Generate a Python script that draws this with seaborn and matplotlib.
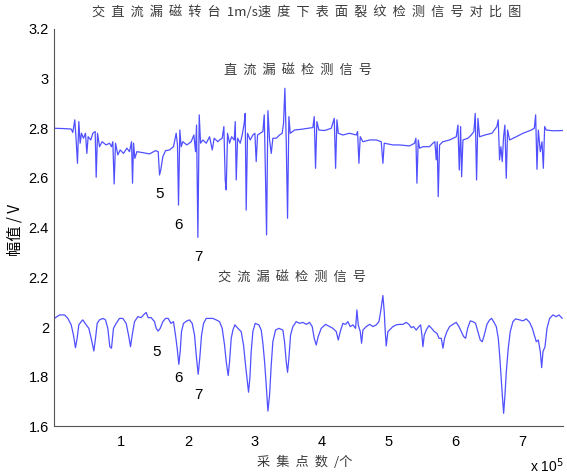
import numpy as np
import matplotlib
matplotlib.use("Agg")
import matplotlib.pyplot as plt
import seaborn as sns

# ========== 数据（横坐标单位: 1e5 个采集点） ==========
dc_x = [0.000, 0.125, 0.250, 0.274, 0.304, 0.324, 0.344, 0.364, 0.384, 0.404,
        0.434, 0.464, 0.484, 0.504, 0.544, 0.574, 0.609, 0.624, 0.644, 0.674,
        0.713, 0.773, 0.823, 0.853, 0.873, 0.893, 0.913, 0.948, 0.983, 1.033,
        1.083, 1.123, 1.153, 1.168, 1.183, 1.203, 1.233, 1.322, 1.422, 1.512,
        1.552, 1.572, 1.592, 1.622, 1.662, 1.722, 1.781, 1.821, 1.841, 1.856,
        1.876, 1.896, 1.921, 1.981, 2.046, 2.086, 2.111, 2.126, 2.146, 2.166,
        2.186, 2.221, 2.271, 2.321, 2.361, 2.390, 2.445,
        2.470, 2.510, 2.535, 2.555, 2.570, 2.590, 2.620, 2.650, 2.690, 2.705,
        2.720, 2.740, 2.780, 2.809, 2.839, 2.854, 2.869, 2.889, 2.929, 2.969,
        2.999, 3.019, 3.039, 3.079, 3.119, 3.139, 3.159, 3.174, 3.194, 3.219,
        3.244, 3.268, 3.318, 3.368, 3.408, 3.428, 3.448, 3.468, 3.488, 3.508,
        3.528, 3.593, 3.693, 3.793, 3.867, 3.887, 3.907, 3.927, 3.957, 4.042,
        4.142, 4.187, 4.207, 4.227, 4.247, 4.316, 4.416, 4.516, 4.536, 4.556,
        4.576, 4.616, 4.716, 4.816, 4.890, 4.915, 4.935, 4.990, 5.065,
        5.165, 5.314, 5.389, 5.409, 5.424, 5.444, 5.464, 5.514, 5.614, 5.664,
        5.693, 5.713, 5.728, 5.743, 5.763, 5.813, 5.913, 6.013, 6.038, 6.058,
        6.078, 6.093, 6.113, 6.188, 6.237, 6.277, 6.297, 6.317, 6.337, 6.362,
        6.442, 6.547, 6.621, 6.641, 6.661, 6.681, 6.701, 6.721, 6.741, 6.761,
        6.781, 6.811, 6.911, 7.011, 7.136, 7.181, 7.201, 7.221, 7.241, 7.271,
        7.296, 7.316, 7.336, 7.360, 7.460, 7.610]
dc_y = [2.800, 2.799, 2.797, 2.783, 2.834, 2.753, 2.659, 2.827, 2.740, 2.780,
        2.760, 2.780, 2.699, 2.766, 2.753, 2.780, 2.787, 2.603, 2.780, 2.726,
        2.746, 2.733, 2.740, 2.726, 2.746, 2.576, 2.740, 2.693, 2.713, 2.699,
        2.720, 2.706, 2.746, 2.579, 2.740, 2.679, 2.706, 2.702, 2.697, 2.710,
        2.706, 2.612, 2.635, 2.686, 2.710, 2.713, 2.726, 2.780, 2.733, 2.491,
        2.793, 2.726, 2.746, 2.733, 2.746, 2.773, 2.706, 2.813, 2.361, 2.854,
        2.740, 2.753, 2.740, 2.766, 2.713, 2.760, 2.746,
        2.753, 2.760, 2.807, 2.592, 2.552, 2.780, 2.740, 2.766, 2.753, 2.827,
        2.592, 2.760, 2.740, 2.773, 2.820, 2.860, 2.471, 2.780, 2.753, 2.773,
        2.780, 2.666, 2.773, 2.780, 2.787, 2.854, 2.592, 2.371, 2.871, 2.753,
        2.699, 2.760, 2.760, 2.773, 2.780, 2.820, 2.961, 2.753, 2.438, 2.847,
        2.780, 2.793, 2.796, 2.800, 2.803, 2.847, 2.639, 2.827, 2.793, 2.791,
        2.800, 2.840, 2.639, 2.834, 2.780, 2.773, 2.780, 2.773, 2.787, 2.659,
        2.766, 2.746, 2.753, 2.753, 2.746, 2.659, 2.740, 2.737, 2.733,
        2.733, 2.729, 2.740, 2.760, 2.579, 2.753, 2.720, 2.726, 2.726, 2.740,
        2.746, 2.673, 2.746, 2.525, 2.733, 2.746, 2.753, 2.766, 2.813, 2.632,
        2.807, 2.605, 2.753, 2.760, 2.773, 2.787, 2.860, 2.592, 2.840, 2.766,
        2.773, 2.780, 2.807, 2.834, 2.673, 2.726, 2.666, 2.766, 2.813, 2.599,
        2.793, 2.753, 2.766, 2.780, 2.793, 2.800, 2.854, 2.635, 2.793, 2.706,
        2.746, 2.639, 2.807, 2.793, 2.790, 2.791]

ac_x = [0.000, 0.075, 0.150, 0.200, 0.250, 0.284, 0.314, 0.339, 0.364, 0.399,
        0.424, 0.474, 0.514, 0.549, 0.589, 0.614, 0.639, 0.674, 0.724, 0.763,
        0.798, 0.828, 0.853, 0.883, 0.923, 0.973, 1.023, 1.073, 1.108, 1.138,
        1.163, 1.198, 1.248, 1.297, 1.332, 1.372, 1.402, 1.447, 1.497, 1.522,
        1.552, 1.582, 1.622, 1.662, 1.702, 1.742, 1.781, 1.811, 1.836, 1.861,
        1.881, 1.901, 1.931, 1.981, 2.021, 2.061, 2.096, 2.126, 2.151, 2.176,
        2.201, 2.231, 2.271, 2.310, 2.370, 2.420, 2.470,
        2.510, 2.545, 2.570, 2.600, 2.620, 2.645, 2.670, 2.700, 2.745, 2.794,
        2.829, 2.859, 2.889, 2.904, 2.924, 2.944, 2.969, 3.004, 3.059, 3.094,
        3.119, 3.144, 3.169, 3.194, 3.219, 3.244, 3.268, 3.308, 3.358, 3.418,
        3.443, 3.468, 3.488, 3.508, 3.533, 3.568, 3.618, 3.668, 3.718, 3.768,
        3.817, 3.857, 3.887, 3.917, 3.947, 3.992, 4.057, 4.117, 4.167, 4.217,
        4.247, 4.277, 4.316, 4.356, 4.391, 4.426, 4.466, 4.506, 4.526, 4.546,
        4.576, 4.596, 4.616, 4.666, 4.716, 4.766, 4.816, 4.856, 4.885, 4.915,
        4.935, 4.950, 4.965, 4.990,
        5.065, 5.115, 5.165, 5.215, 5.264, 5.304, 5.339, 5.374, 5.414, 5.454,
        5.479, 5.499, 5.514, 5.534, 5.564, 5.604, 5.644, 5.684, 5.724, 5.754,
        5.789, 5.814, 5.838, 5.873, 5.913, 5.963, 6.013, 6.053, 6.088, 6.123,
        6.153, 6.183, 6.223, 6.262, 6.302, 6.337, 6.372, 6.402, 6.432, 6.472,
        6.512, 6.542, 6.572, 6.612, 6.642, 6.662, 6.682, 6.702, 6.722, 6.742,
        6.762, 6.791, 6.821, 6.861, 6.901, 6.961, 7.011, 7.061, 7.111, 7.151,
        7.181, 7.211, 7.241, 7.271, 7.291, 7.311, 7.341, 7.371, 7.410, 7.460,
        7.510, 7.550, 7.600]
ac_y = [2.035, 2.049, 2.049, 2.035, 2.009, 1.968, 1.917, 1.955, 2.009, 2.022,
        2.029, 2.009, 1.995, 1.955, 1.904, 1.955, 2.015, 2.029, 2.035, 2.029,
        1.995, 1.921, 1.915, 1.995, 2.015, 2.035, 2.035, 2.015, 1.968, 1.921,
        1.968, 2.022, 2.042, 2.038, 2.049, 2.059, 2.038, 2.038, 2.022, 1.995,
        1.984, 1.995, 2.022, 2.035, 2.035, 2.015, 2.022, 1.968, 1.915, 1.850,
        1.901, 1.982, 2.015, 2.025, 2.029, 2.015, 1.968, 1.874, 1.810, 1.881,
        1.968, 2.015, 2.035, 2.035, 2.035, 2.029, 2.022,
        1.995, 1.928, 1.861, 1.805, 1.861, 1.955, 1.988, 2.009, 1.995, 1.982,
        1.928, 1.848, 1.774, 1.738, 1.794, 1.901, 1.982, 2.015, 2.009, 1.988,
        1.935, 1.861, 1.767, 1.662, 1.727, 1.848, 1.941, 1.988, 1.995, 1.988,
        1.941, 1.861, 1.818, 1.874, 1.968, 2.002, 2.022, 2.015, 2.019, 2.011,
        2.019, 2.002, 1.955, 1.928, 1.962, 1.995, 2.011, 2.002, 1.995, 1.982,
        1.948, 1.982, 2.015, 2.011, 2.022, 2.002, 2.009, 1.995, 2.069, 2.009,
        1.982, 1.935, 1.988, 2.002, 2.011, 2.002, 2.009, 2.022, 2.069, 2.127,
        2.062, 1.982, 1.924, 1.982,
        2.002, 2.009, 2.011, 2.011, 2.019, 2.011, 1.998, 2.002, 1.988, 2.002,
        2.009, 1.968, 1.921, 1.968, 1.988, 2.006, 1.995, 1.982, 1.975, 1.955,
        1.955, 1.915, 1.955, 1.982, 2.002, 2.011, 2.019, 2.002, 1.982, 1.962,
        1.955, 1.995, 2.025, 2.022, 2.015, 1.982, 1.948, 1.941, 1.968, 2.011,
        2.029, 2.035, 2.022, 2.002, 1.955, 1.888, 1.807, 1.727, 1.653, 1.727,
        1.821, 1.915, 1.982, 2.022, 2.033, 2.029, 2.025, 2.033, 2.019, 1.995,
        1.968, 1.941, 1.948, 1.901, 1.837, 1.901, 1.921, 1.995, 2.035, 2.049,
        2.042, 2.049, 2.035]

x_ticks = [1, 2, 3, 4, 5, 6, 7]
y_ticks = [1.6, 1.8, 2.0, 2.2, 2.4, 2.6, 2.8, 3.0, 3.2]
y_tick_labels = ["1.6", "1.8", "2", "2.2", "2.4", "2.6", "2.8", "3", "3.2"]

crack_labels = ["5", "6", "7"]
dc_label_x = [1.572, 1.861, 2.156]
dc_label_y = [2.537, 2.411, 2.283]
ac_label_x = [1.532, 1.852, 2.161]
ac_label_y = [1.901, 1.796, 1.727]

# ========== 绘图 ==========
sns.set_style("white")
plt.rcParams["font.family"] = ["Liberation Sans", "Noto Sans CJK SC", "DejaVu Sans"]
CJK = ["Noto Sans CJK SC", "DejaVu Sans"]
LINE_COLOR = "#5050ff"
GRAY = "#3a3a3a"

fig = plt.figure(figsize=(5.67, 4.76), dpi=100)
ax = fig.add_axes([0.0961, 0.104, 0.8968, 0.8353])

sns.lineplot(x=dc_x, y=dc_y, ax=ax, color=LINE_COLOR, linewidth=0.9,
             estimator=None, sort=False)
sns.lineplot(x=ac_x, y=ac_y, ax=ax, color=LINE_COLOR, linewidth=0.9,
             estimator=None, sort=False)

ax.set_xlim(0, 7.61)
ax.set_ylim(1.6, 3.2)
ax.set_xticks(x_ticks)
ax.set_xticklabels([str(t) for t in x_ticks])
ax.set_yticks(y_ticks)
ax.set_yticklabels(y_tick_labels)
ax.tick_params(direction="in", length=4, width=0.8, colors="#555555",
               labelcolor="black", labelsize=10.5, pad=6)
ax.tick_params(axis="y", pad=4)
sns.despine(ax=ax)
for side in ["left", "bottom"]:
    ax.spines[side].set_color("#555555")
    ax.spines[side].set_linewidth(0.8)

# 文本注释
ax.text(3.64, 3.035, "直  流  漏  磁  检  测  信  号", family=CJK, fontsize=9.5,
        color=GRAY, ha="center", va="center")
ax.text(3.55, 2.198, "交  流  漏  磁  检  测  信  号", family=CJK, fontsize=9.5,
        color=GRAY, ha="center", va="center")
for lab, x, y in zip(crack_labels, dc_label_x, dc_label_y):
    ax.text(x, y, lab, fontsize=11, ha="center", va="center", color="black")
for lab, x, y in zip(crack_labels, ac_label_x, ac_label_y):
    ax.text(x, y, lab, fontsize=11, ha="center", va="center", color="black")

fig.text(0.541, 0.975,
         "交  直  流  漏  磁  转  台  1m/s速  度  下  表  面  裂  纹  检  测  信  号  对  比  图",
         family=CJK, fontsize=9.5, color=GRAY, ha="center", va="center")
fig.text(0.538, 0.029, "采  集  点  数  /个", family=CJK, fontsize=9.5,
         color=GRAY, ha="center", va="center")
fig.text(0.027, 0.517, "幅值 / V", family=CJK, fontsize=11, color="black",
         rotation=90, ha="center", va="center")
fig.text(0.935, 0.022, r"x 10$^{5}$", fontsize=10, color="black",
         ha="left", va="center")

plt.savefig("out.png", dpi=100)
